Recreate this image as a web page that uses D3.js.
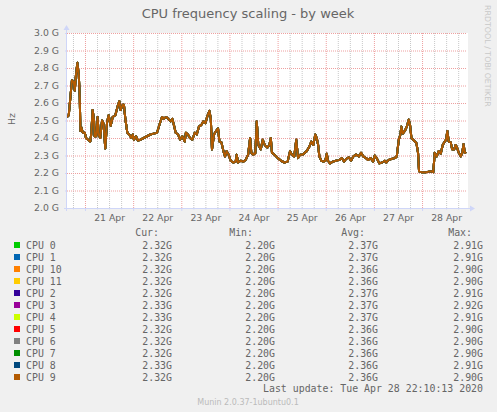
<!DOCTYPE html>
<html>
<head>
<meta charset="utf-8">
<script src="https://cdn.jsdelivr.net/npm/d3@7"></script>
<style>
  body { margin: 0; background: #f0f0f0; }
  svg { display: block; }
  text { fill: #666; font-family: "DejaVu Sans", sans-serif; }
  .mono { font-family: "DejaVu Sans Mono", monospace; font-size: 9.9px; }
</style>
</head>
<body>
<div id="chart"></div>
<script>
// hours are counted from this moment
const startTime = "2020-04-20 00:00";

const hours = [
  15.0, 15.9, 16.7, 17.5, 18.4, 18.9, 19.5, 20.2, 20.9, 21.4, 21.7, 22.2, 22.9, 23.9,
  24.5, 25.5, 26.6, 27.1, 27.8, 28.5, 28.8, 29.6, 30.3, 30.8, 31.6, 32.5, 33.3, 34.1,
  35.0, 35.8, 36.8, 37.8, 39.1, 40.5, 41.1, 41.8, 42.8, 43.4, 44.1, 45.1, 46.1, 47.1,
  47.8, 48.4, 49.4, 50.4, 51.6, 53.3, 54.9, 56.6, 58.2, 59.9, 61.5, 62.4, 63.2, 64.4,
  65.0, 66.7, 67.5, 68.4, 69.2, 70.4, 71.4, 72.5, 73.7, 74.3, 75.3, 76.3, 77.5, 78.7,
  79.7, 80.8, 82.0, 83.0, 84.0, 85.0, 86.0, 86.7, 87.3, 88.3, 89.3, 90.3, 91.0, 92.0,
  93.0, 93.8, 94.6, 95.6, 96.6, 97.9, 99.1, 99.6, 100.3, 101.6, 102.9, 104.1, 105.3,
  106.3, 106.9, 107.9, 108.9, 109.6, 110.4, 111.6, 112.6, 113.6, 114.9, 115.9, 116.6,
  117.2, 118.4, 120.1, 121.7, 123.4, 125.0, 126.2, 127.2, 128.3, 129.3, 130.2, 131.2,
  132.5, 133.5, 134.5, 135.8, 136.8, 137.8, 138.8, 139.5, 140.2, 140.8, 141.8, 142.8,
  143.8, 144.5, 145.1, 146.1, 147.5, 149.1, 150.8, 152.1, 153.1, 154.1, 155.5, 156.6,
  157.8, 159.1, 160.5, 161.6, 162.7, 164.1, 165.1, 166.4, 167.6, 168.4, 169.4, 170.7,
  172.1, 173.4, 174.2, 175.4, 176.7, 178.4, 179.4, 180.4, 181.2, 181.7, 182.4, 183.4,
  184.4, 185.4, 186.0, 186.7, 187.5, 188.4, 189.2, 190.0, 190.5, 191.7, 194.1, 196.6,
  197.6, 198.3, 199.3, 200.3, 201.3, 202.3, 203.3, 204.0, 204.6, 205.3, 206.3, 207.0,
  208.0, 208.7, 209.3, 210.3, 211.3, 212.0, 212.7, 213.3, 214.0
];

const freqGHz = [
  2.52, 2.53, 2.63, 2.73, 2.72, 2.67, 2.76, 2.83, 2.76, 2.63, 2.44, 2.46, 2.43, 2.43,
  2.40, 2.39, 2.38, 2.42, 2.56, 2.50, 2.41, 2.41, 2.52, 2.42, 2.40, 2.50, 2.48, 2.34,
  2.49, 2.53, 2.47, 2.52, 2.53, 2.59, 2.61, 2.56, 2.59, 2.59, 2.51, 2.43, 2.42, 2.40,
  2.42, 2.39, 2.41, 2.385, 2.39, 2.40, 2.41, 2.42, 2.425, 2.43, 2.49, 2.52, 2.51, 2.52,
  2.515, 2.495, 2.51, 2.47, 2.43, 2.42, 2.39, 2.41, 2.38, 2.43, 2.42, 2.40, 2.39, 2.43,
  2.42, 2.465, 2.475, 2.495, 2.485, 2.525, 2.555, 2.51, 2.335, 2.42, 2.44, 2.455, 2.38, 2.375,
  2.325, 2.295, 2.325, 2.305, 2.27, 2.26, 2.265, 2.305, 2.26, 2.27, 2.265, 2.275, 2.305,
  2.40, 2.315, 2.305, 2.315, 2.495, 2.36, 2.335, 2.39, 2.36, 2.345, 2.36, 2.40,
  2.315, 2.305, 2.285, 2.27, 2.26, 2.265, 2.325, 2.305, 2.295, 2.39, 2.285, 2.305,
  2.305, 2.315, 2.325, 2.35, 2.38, 2.36, 2.42, 2.40, 2.36, 2.295, 2.27, 2.265,
  2.27, 2.31, 2.27, 2.255, 2.265, 2.27, 2.275, 2.285, 2.265, 2.28, 2.29, 2.27,
  2.295, 2.305, 2.295, 2.315, 2.295, 2.285, 2.275, 2.285, 2.265, 2.30, 2.285, 2.255,
  2.26, 2.27, 2.26, 2.275, 2.28, 2.285, 2.295, 2.39, 2.42, 2.465, 2.425, 2.44,
  2.465, 2.505, 2.475, 2.40, 2.39, 2.38, 2.37, 2.315, 2.21, 2.205, 2.205, 2.21,
  2.205, 2.315, 2.295, 2.325, 2.31, 2.36, 2.38, 2.39, 2.44, 2.38, 2.375, 2.335,
  2.335, 2.36, 2.35, 2.315, 2.295, 2.315, 2.365, 2.315, 2.32
];

const cpuNames = ["CPU 0", "CPU 1", "CPU 10", "CPU 11", "CPU 2", "CPU 3",
                  "CPU 4", "CPU 5", "CPU 6", "CPU 7", "CPU 8", "CPU 9"];
const cpuColors = ["#00cc00", "#0066b3", "#ff8000", "#ffcc00", "#330099", "#990099",
                   "#ccff00", "#ff0000", "#808080", "#008f00", "#00487d", "#b35a00"];
const curVals = [2.32, 2.32, 2.32, 2.32, 2.32, 2.33, 2.33, 2.32, 2.32, 2.32, 2.33, 2.32];
const minVals = [2.20, 2.20, 2.20, 2.20, 2.20, 2.20, 2.20, 2.20, 2.20, 2.20, 2.20, 2.20];
const avgVals = [2.37, 2.37, 2.36, 2.36, 2.37, 2.37, 2.37, 2.36, 2.36, 2.36, 2.36, 2.36];
const maxVals = [2.91, 2.91, 2.90, 2.90, 2.91, 2.92, 2.91, 2.90, 2.90, 2.90, 2.91, 2.90];

const yTicks = [2.0, 2.1, 2.2, 2.3, 2.4, 2.5, 2.6, 2.7, 2.8, 2.9, 3.0];
const title = "CPU frequency scaling - by week";
const lastUpdate = "Last update: Tue Apr 28 22:10:13 2020";

const width = 497, height = 412;
const plot = { left: 67, right: 467, top: 33, bottom: 208 };
const axisColor = "#cfd6f8";

const base = d3.timeParse("%Y-%m-%d %H:%M")(startTime);
const atHour = h => new Date(base.getTime() + h * 3600e3);

const svg = d3.select("#chart")
    .append("svg")
    .attr("width", width)
    .attr("height", height);

svg.append("rect")
    .attr("width", width)
    .attr("height", height)
    .attr("fill", "#f0f0f0");

const x = d3.scaleTime()
    .domain([atHour(15.03), atHour(214.4)])
    .range([plot.left, plot.right]);

const y = d3.scaleLinear()
    .domain([2.0, 3.0])
    .range([plot.bottom, plot.top]);

// canvas
svg.append("rect")
    .attr("x", plot.left)
    .attr("y", plot.top)
    .attr("width", plot.right - plot.left + 1)
    .attr("height", plot.bottom - plot.top)
    .attr("fill", "#fff");

const [t0, t1] = x.domain();
const dayTicks = d3.timeDay.range(d3.timeDay.ceil(t0), t1);
const minorTicks = d3.timeHour.every(6).range(t0, t1)
    .filter(d => d.getHours() !== 0);
const noonTicks = d3.timeHour.range(t0, t1).filter(d => d.getHours() === 12);

// minor vertical grid
const gMinor = svg.append("g")
    .attr("transform", `translate(0, ${plot.bottom})`)
    .call(d3.axisBottom(x).tickValues(minorTicks).tickSize(-(plot.bottom - plot.top)).tickFormat(""));
gMinor.select(".domain").remove();
gMinor.selectAll("line")
    .attr("stroke", "#c8c8c8")
    .attr("stroke-dasharray", "1,1");

// major vertical grid
const gMajor = svg.append("g")
    .attr("transform", `translate(0, ${plot.bottom})`)
    .call(d3.axisBottom(x).tickValues(dayTicks).tickSize(-(plot.bottom - plot.top)).tickFormat(""));
gMajor.select(".domain").remove();
gMajor.selectAll("line")
    .attr("stroke", "#eea0a0")
    .attr("stroke-dasharray", "1,1");

// horizontal grid
const gH = svg.append("g")
    .attr("transform", `translate(${plot.left}, 0)`)
    .call(d3.axisLeft(y).tickValues(yTicks).tickSize(-(plot.right - plot.left)).tickFormat(""));
gH.select(".domain").remove();
gH.selectAll("line")
    .attr("stroke", "#eea0a0")
    .attr("stroke-dasharray", "1,1");

// lines, drawn in legend order so CPU 9 ends on top
const line = d3.line()
    .x((d, i) => x(atHour(hours[i])))
    .y(d => y(d));

cpuNames.forEach((name, i) => {
    svg.append("path")
        .datum(freqGHz)
        .attr("fill", "none")
        .attr("stroke", cpuColors[i])
        .attr("stroke-width", 2)
        .attr("stroke-linejoin", "round")
        .attr("d", line);
});

// axes
const yAxis = svg.append("g")
    .attr("transform", `translate(${plot.left}, 0)`)
    .call(d3.axisLeft(y).tickValues(yTicks).tickSize(2).tickPadding(6)
        .tickFormat(d => d.toFixed(1) + " G"));
yAxis.select(".domain").remove();
yAxis.selectAll("line").attr("stroke", axisColor);
yAxis.selectAll("text")
    .attr("fill", "#666")
    .style("font-family", "DejaVu Sans")
    .style("font-size", "9.3px");

const xAxis = svg.append("g")
    .attr("transform", `translate(0, ${plot.bottom})`)
    .call(d3.axisBottom(x).tickValues(noonTicks).tickSize(0).tickPadding(6)
        .tickFormat(d3.timeFormat("%d %b")));
xAxis.select(".domain").remove();
xAxis.selectAll("text")
    .attr("fill", "#666")
    .style("font-family", "DejaVu Sans")
    .style("font-size", "9.3px");

const xTickMarks = svg.append("g")
    .attr("transform", `translate(0, ${plot.bottom})`)
    .call(d3.axisBottom(x).tickValues(dayTicks).tickSize(3).tickFormat(""));
xTickMarks.select(".domain").remove();
xTickMarks.selectAll("line").attr("stroke", axisColor);

const xMinorMarks = svg.append("g")
    .attr("transform", `translate(0, ${plot.bottom})`)
    .call(d3.axisBottom(x).tickValues(minorTicks).tickSize(1.5).tickFormat(""));
xMinorMarks.select(".domain").remove();
xMinorMarks.selectAll("line").attr("stroke", axisColor);

svg.append("line")
    .attr("x1", plot.left - 3).attr("x2", plot.right + 4)
    .attr("y1", plot.bottom + 0.5).attr("y2", plot.bottom + 0.5)
    .attr("stroke", axisColor);
svg.append("line")
    .attr("x1", plot.left - 0.5).attr("x2", plot.left - 0.5)
    .attr("y1", plot.bottom + 3).attr("y2", plot.top - 4)
    .attr("stroke", axisColor);
svg.append("path")
    .attr("d", `M${plot.right + 3},${plot.bottom - 2.5} L${plot.right + 8},${plot.bottom + 0.5} L${plot.right + 3},${plot.bottom + 3.5} Z`)
    .attr("fill", axisColor);
svg.append("path")
    .attr("d", `M${plot.left - 3.5},${plot.top - 3} L${plot.left - 0.5},${plot.top - 8} L${plot.left + 2.5},${plot.top - 3} Z`)
    .attr("fill", axisColor);

// titles
svg.append("text")
    .attr("x", 248)
    .attr("y", 18)
    .attr("text-anchor", "middle")
    .style("font-size", "13px")
    .attr("fill", "#555")
    .text(title);

svg.append("text")
    .attr("transform", "translate(15, 119) rotate(-90)")
    .attr("text-anchor", "middle")
    .style("font-size", "9.4px")
    .text("Hz");

svg.append("text")
    .attr("transform", "translate(485, 5) rotate(90)")
    .attr("text-anchor", "start")
    .style("font-size", "7.9px")
    .style("fill", "#c8c8c8")
    .text("RRDTOOL / TOBI OETIKER");

// legend
const colEnds = [172, 275, 378, 483];
const headEnds = [159, 253, 365, 472];
["Cur:", "Min:", "Avg:", "Max:"].forEach((h, j) => {
    svg.append("text")
        .attr("class", "mono")
        .attr("x", headEnds[j])
        .attr("y", 236)
        .attr("text-anchor", "end")
        .text(h);
});

const fmt = v => v.toFixed(2) + "G";
cpuNames.forEach((name, i) => {
    const yPos = 248.5 + i * 12;
    svg.append("rect")
        .attr("x", 14)
        .attr("y", yPos - 6.5)
        .attr("width", 6)
        .attr("height", 6)
        .attr("fill", cpuColors[i]);
    svg.append("text")
        .attr("class", "mono")
        .attr("x", 26)
        .attr("y", yPos)
        .text(name);
    [curVals, minVals, avgVals, maxVals].forEach((vals, j) => {
        svg.append("text")
            .attr("class", "mono")
            .attr("x", colEnds[j])
            .attr("y", yPos)
            .attr("text-anchor", "end")
            .text(fmt(vals[i]));
    });
});

svg.append("text")
    .attr("class", "mono")
    .attr("x", 483)
    .attr("y", 391.5)
    .attr("text-anchor", "end")
    .text(lastUpdate);

svg.append("text")
    .attr("x", 248)
    .attr("y", 405)
    .attr("text-anchor", "middle")
    .style("font-size", "8px")
    .style("fill", "#bbb")
    .text("Munin 2.0.37-1ubuntu0.1");
</script>
</body>
</html>
